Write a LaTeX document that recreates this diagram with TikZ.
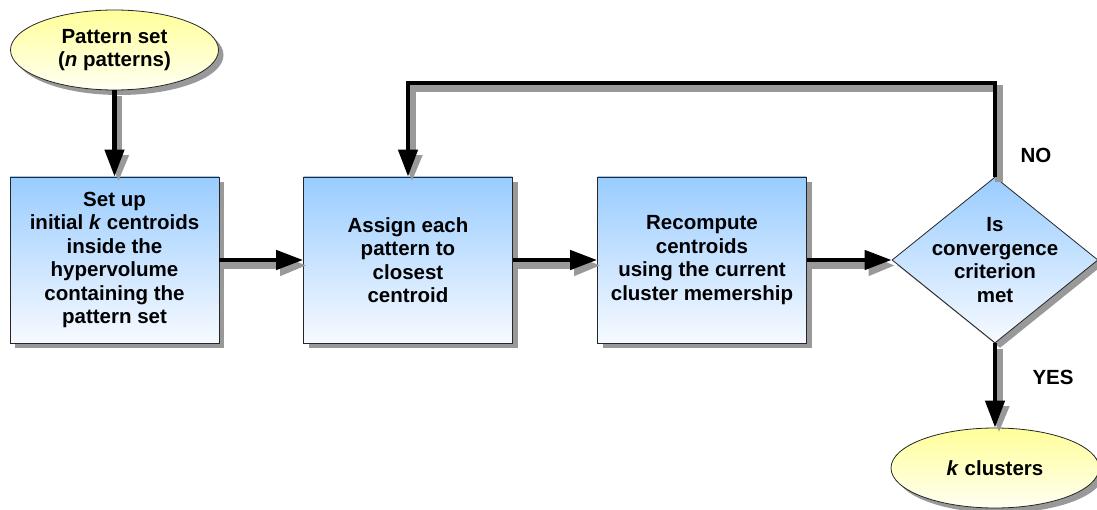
\documentclass[tikz,border=0pt]{standalone}
\usepackage{fontspec}
\setmainfont{Liberation Sans}
\usetikzlibrary{shapes.geometric,arrows.meta,shadows}

\definecolor{boxtop}{HTML}{99CCFF}
\definecolor{boxbot}{HTML}{F7FAFF}
\definecolor{termtop}{HTML}{FFFF99}
\definecolor{termbot}{HTML}{FFFFF2}
\definecolor{shadowgray}{HTML}{999999}

\tikzset{
  labelfont/.style={font=\bfseries\fontsize{20.5}{23.4}\selectfont},
  boxshadow/.style={drop shadow={shadow xshift=5pt, shadow yshift=-5pt, fill=shadowgray, opacity=1}},
  stepbox/.style={rectangle, draw=black!85, line width=0.8pt, minimum width=209pt,
    minimum height=166pt, inner sep=0pt, align=center, top color=boxtop,
    bottom color=boxbot, boxshadow, labelfont},
  terminal/.style={ellipse, draw=black!85, line width=0.8pt, minimum width=208pt,
    minimum height=80pt, inner sep=0pt, align=center, top color=termtop,
    bottom color=termbot, boxshadow, labelfont},
  decision/.style={diamond, draw=black!85, line width=0.8pt, minimum width=206pt,
    minimum height=166pt, inner sep=0pt, top color=boxtop, bottom color=boxbot, boxshadow},
  plaintext/.style={align=center, inner sep=0pt, labelfont},
  flow/.style={line width=4.5pt, -{Triangle[length=27pt,width=19pt]}},
  flowshadow/.style={flow, line width=7.5pt, color=shadowgray},
}

\begin{document}
\begin{tikzpicture}[x=1pt,y=-1pt]
\useasboundingbox (0,0) rectangle (1097,510);

% nodes
\node[terminal] (start) at (114.5,50) {Pattern set\\(\textit{n} patterns)};
\node[stepbox] (init) at (114.5,260) {Set up\\initial \textit{k} centroids\\inside the\\hypervolume\\containing the\\pattern set};
\node[stepbox] (assign) at (408,260) {Assign each\\pattern to\\closest\\centroid};
\node[stepbox] (recomp) at (702,260) {Recompute\\centroids\\using the current\\cluster memership};
\node[decision] (conv) at (995,260) {};
\node[plaintext] (convtext) at (conv) {Is\\convergence\\criterion\\met};
\node[terminal] (done) at (995,468) {\textit{k} clusters};

\coordinate (looptop) at (995,83);

\node[plaintext] (no) at (1036,155) {NO};
\node[plaintext] (yes) at (1053,377) {YES};

% connector shadows
\begin{scope}[transform canvas={shift={(4pt,-5.5pt)}}]
  \draw[flowshadow] (start) -- (init);
  \draw[flowshadow] (init) -- (assign);
  \draw[flowshadow] (assign) -- (recomp);
  \draw[flowshadow] (recomp) -- (conv.west);
  \draw[flowshadow] (conv.south) -- (done);
  \draw[flowshadow] (conv.north) -- (conv.north |- looptop) -| (assign.north);
\end{scope}

% connectors
\draw[flow] (start) -- (init);
\draw[flow] (init) -- (assign);
\draw[flow] (assign) -- (recomp);
\draw[flow] (recomp) -- (conv.west);
\draw[flow] (conv.south) -- (done);
\draw[flow] (conv.north) -- (conv.north |- looptop) -| (assign.north);
\end{tikzpicture}
\end{document}
